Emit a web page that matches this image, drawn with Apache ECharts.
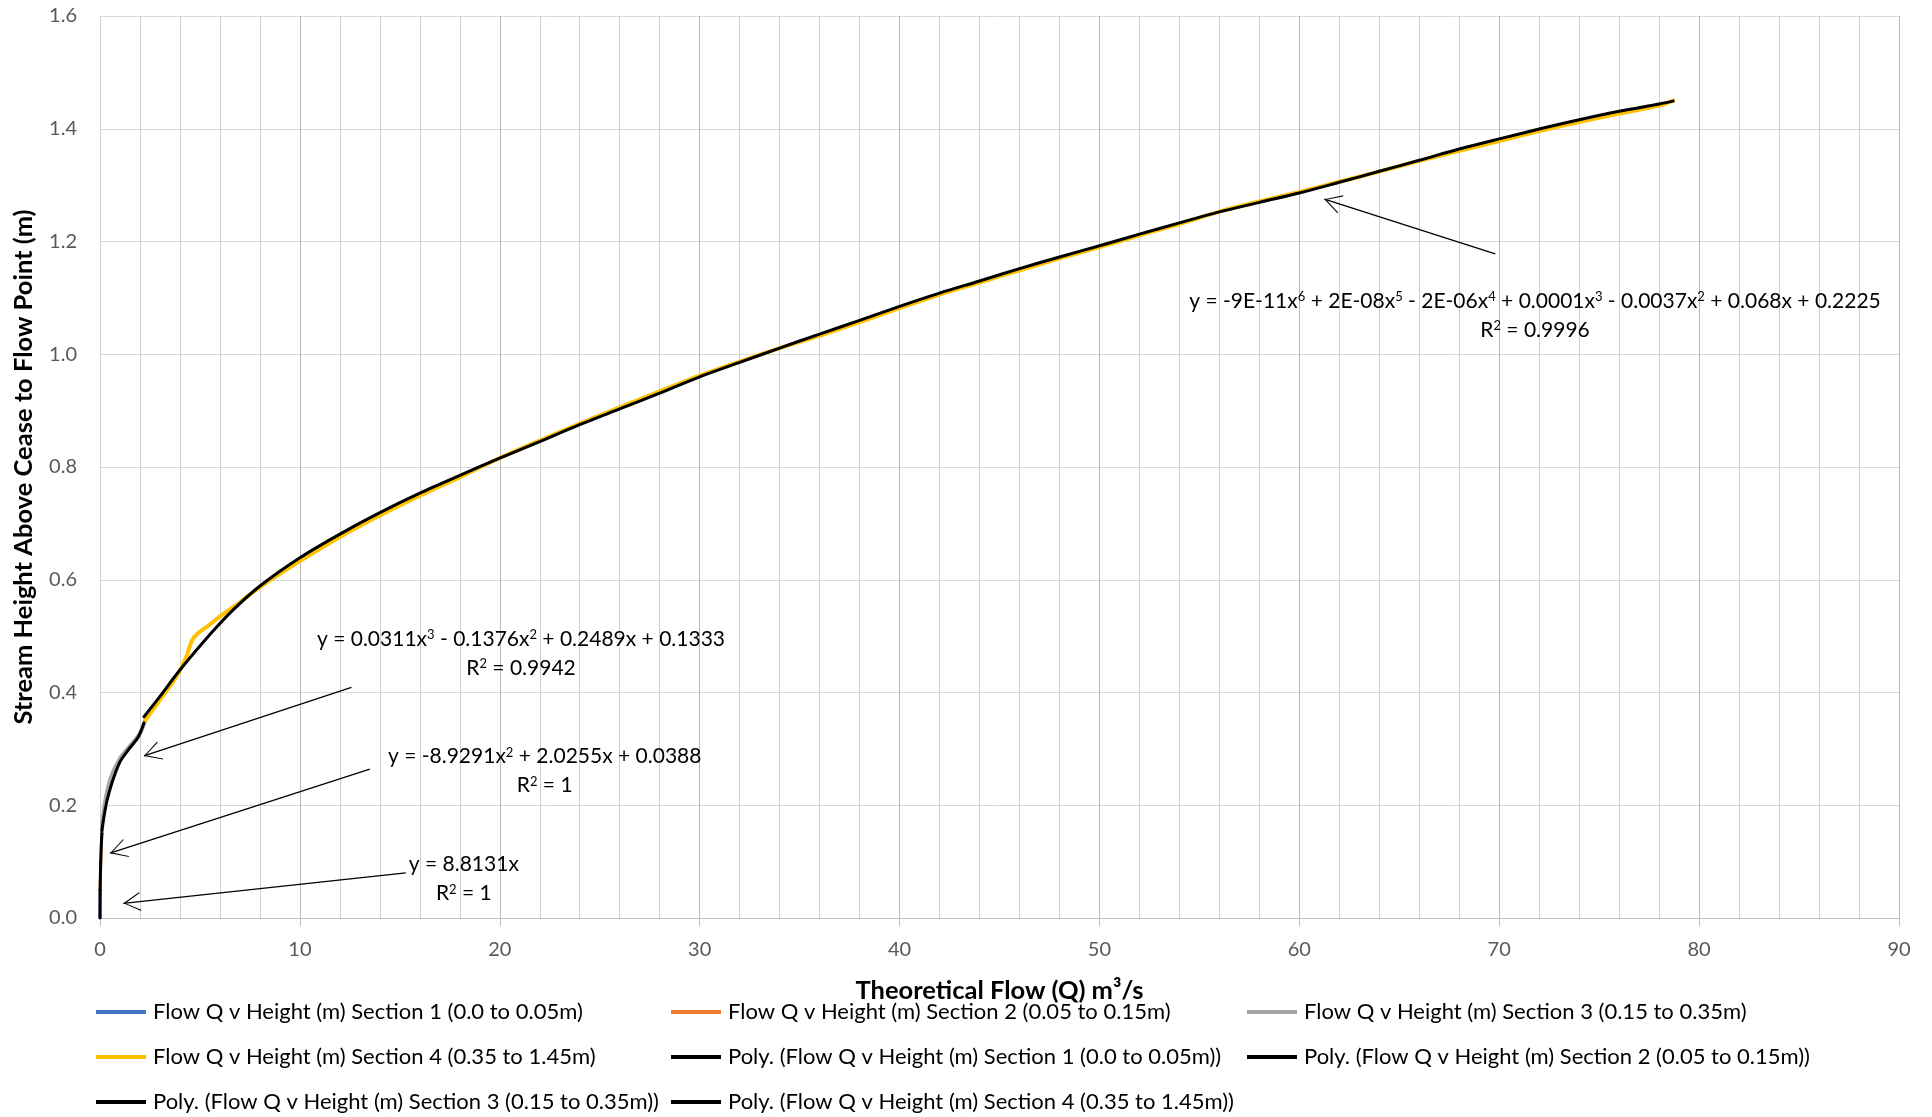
<!DOCTYPE html>
<html>
<head>
<meta charset="utf-8">
<script src="https://cdn.jsdelivr.net/npm/echarts@6/dist/echarts.min.js"></script>
<style>
html,body{margin:0;padding:0;background:#fff;}
#chart{width:1932px;height:1117px;}
</style>
</head>
<body>
<div id="chart"></div>
<script>
// ---- Data ----
const sec1X = [0, 0.0057];
const sec1Y = [0, 0.05];

const sec2X = [0.0057, 0.02, 0.04, 0.06, 0.08, 0.093];
const sec2Y = [0.05, 0.075, 0.1, 0.12, 0.138, 0.15];

const sec3X = [0.093, 0.15, 0.3, 0.55, 1.0, 1.5, 1.9, 2.1, 2.25];
const sec3Y = [0.15, 0.18, 0.215, 0.25, 0.283, 0.305, 0.322, 0.335, 0.35];

const sec4X = [2.25, 3.0, 3.8, 4.3, 4.6, 4.9, 5.4, 6, 7, 8, 10, 12, 14, 16, 18, 20, 22, 24, 26, 28, 30,
               32, 34, 36, 38, 40, 42, 44, 46, 48, 50, 52, 54, 56, 58, 60, 62, 64, 66, 68, 70, 72, 74, 76, 78, 78.7];
const sec4Y = [0.350, 0.387, 0.427, 0.462, 0.492, 0.505, 0.518, 0.535, 0.560, 0.587, 0.633, 0.676, 0.714, 0.749, 0.782, 0.816, 0.847, 0.877, 0.906, 0.934, 0.962,
               0.987, 1.011, 1.033, 1.057, 1.082, 1.106, 1.127, 1.149, 1.170, 1.190, 1.211, 1.231, 1.253, 1.271, 1.288, 1.306, 1.324, 1.343, 1.361, 1.378, 1.396, 1.412, 1.427, 1.441, 1.450];

const poly1X = [0, 0.0057];
const poly1Y = [0, 0.05];

const poly2X = [0.0057, 0.03, 0.06, 0.093];
const poly2Y = [0.05, 0.092, 0.126, 0.15];

const poly3X = [0.093, 0.2, 0.35, 0.6, 1.0, 1.5, 1.9, 2.2];
const poly3Y = [0.155, 0.18, 0.208, 0.24, 0.277, 0.302, 0.32, 0.346];

const poly4X = [2.2, 3.0, 3.8, 4.7, 5.7, 6.7, 8, 10, 12, 14, 16, 18, 20, 22, 24, 26, 28, 30,
                32, 34, 36, 38, 40, 42, 44, 46, 48, 50, 52, 54, 56, 58, 60, 62, 64, 66, 68, 70, 72, 74, 76, 78, 78.7];
const poly4Y = [0.357, 0.393, 0.431, 0.470, 0.511, 0.548, 0.589, 0.639, 0.681, 0.719, 0.7535, 0.785, 0.8157, 0.845, 0.875, 0.903, 0.931, 0.960,
                0.9855, 1.011, 1.0358, 1.060, 1.085, 1.1085, 1.130, 1.152, 1.1725, 1.1925, 1.213, 1.233, 1.2525, 1.2694, 1.286, 1.305, 1.3245, 1.344, 1.364, 1.382, 1.3995, 1.416, 1.431, 1.444, 1.449];

const seriesNames = [
  'Flow Q v Height (m) Section 1 (0.0 to 0.05m)',
  'Flow Q v Height (m) Section 2 (0.05 to 0.15m)',
  'Flow Q v Height (m) Section 3 (0.15 to 0.35m)',
  'Flow Q v Height (m) Section 4 (0.35 to 1.45m)',
  'Poly. (Flow Q v Height (m) Section 1 (0.0 to 0.05m))',
  'Poly. (Flow Q v Height (m) Section 2 (0.05 to 0.15m))',
  'Poly. (Flow Q v Height (m) Section 3 (0.15 to 0.35m))',
  'Poly. (Flow Q v Height (m) Section 4 (0.35 to 1.45m))'
];

const xTicks = [0, 10, 20, 30, 40, 50, 60, 70, 80, 90];
const yTicks = [0.0, 0.2, 0.4, 0.6, 0.8, 1.0, 1.2, 1.4, 1.6];

// trendline annotations (text, with {s|n} marking superscripts) and leader arrows [x, y] in data units
const eqTexts = [
  'y = -9E-11x{s|6} + 2E-08x{s|5} - 2E-06x{s|4} + 0.0001x{s|3} - 0.0037x{s|2} + 0.068x + 0.2225\nR{s|2} = 0.9996',
  'y = 0.0311x{s|3} - 0.1376x{s|2} + 0.2489x + 0.1333\nR{s|2} = 0.9942',
  'y = -8.9291x{s|2} + 2.0255x + 0.0388\nR{s|2} = 1',
  'y = 8.8131x\nR{s|2} = 1'
];
const arrowTail = [[69.8, 1.178], [12.58, 0.409], [13.5, 0.264], [15.3, 0.080]];
const arrowHead = [[61.25, 1.275], [2.2, 0.2875], [0.5, 0.115], [1.17, 0.026]];

// ---- Build ----
const FONT = 'Lato';
function zip(xs, ys) { return xs.map((x, i) => [x, ys[i]]); }

const colors = ['#4472C4', '#ED7D31', '#A5A5A5', '#FFC000', '#000000', '#000000', '#000000', '#000000'];
const widths = [3, 3, 4, 4, 3, 3, 3, 3];
const datas = [zip(sec1X, sec1Y), zip(sec2X, sec2Y), zip(sec3X, sec3Y), zip(sec4X, sec4Y),
               zip(poly1X, poly1Y), zip(poly2X, poly2Y), zip(poly3X, poly3Y), zip(poly4X, poly4Y)];

const chevron = 'path://M9.9,0 L10.1,0 L10,0.1 Z M0.5,34 L10,17 L19.5,34 L18.35,34 L10,19 L1.65,34 Z';

const series = datas.map((d, i) => ({
  name: seriesNames[i],
  type: 'line',
  data: d,
  symbol: 'none',
  smooth: i >= 2 ? 0.3 : false,
  color: colors[i],
  lineStyle: { color: colors[i], width: widths[i], cap: 'round', join: 'round' },
  z: 2 + i,
  silent: true
}));

series[7].markLine = {
  silent: true,
  symbol: ['none', chevron],
  symbolSize: [19, 34],
  label: { show: false },
  lineStyle: { color: '#000', width: 1.3, type: 'solid' },
  emphasis: { disabled: true },
  data: arrowTail.map((t, i) => [{ coord: t }, { coord: arrowHead[i] }])
};

const legendBase = {
  type: 'plain',
  orient: 'vertical',
  itemWidth: 50,
  itemHeight: 4,
  itemGap: 25,
  icon: 'rect',
  padding: 0,
  selectedMode: false,
  textStyle: { fontFamily: FONT, fontSize: 22, color: '#000', lineHeight: 20, padding: [0, 0, 0, 2] },
  top: 1001,
  height: 300
};

const eqPos = [[1535, 315.7], [521, 653.3], [544.7, 771], [463.8, 879]];

const option = {
  animation: false,
  backgroundColor: '#fff',
  grid: { left: 100, right: 33, top: 16, bottom: 199 },
  xAxis: {
    type: 'value', min: 0, max: 90, interval: 10,
    name: 'Theoretical Flow (Q) m\u00B3/s',
    nameLocation: 'middle', nameGap: 59.5,
    nameTextStyle: { fontFamily: FONT, fontSize: 25.5, fontWeight: 'bold', color: '#000' },
    axisLine: { show: true, lineStyle: { color: '#bfbfbf', width: 1 } },
    axisTick: { show: true, length: 8, lineStyle: { color: '#bfbfbf' } },
    axisLabel: { fontFamily: FONT, fontSize: 20, color: '#595959', margin: 22,
                 formatter: v => xTicks.indexOf(v) >= 0 ? String(v) : '' },
    splitLine: { show: true, lineStyle: { color: '#b8b8b8', width: 1 } },
    minorTick: { show: false, splitNumber: 5 },
    minorSplitLine: { show: true, lineStyle: { color: '#d0d0d0', width: 1 } }
  },
  yAxis: {
    type: 'value', min: 0, max: 1.6, interval: 0.2,
    name: 'Stream Height Above Cease to Flow Point (m)',
    nameLocation: 'middle', nameGap: 63, nameRotate: 90,
    nameTextStyle: { fontFamily: FONT, fontSize: 25.5, fontWeight: 'bold', color: '#000' },
    axisLine: { show: true, lineStyle: { color: '#d0d0d0' } },
    axisTick: { show: false },
    axisLabel: { fontFamily: FONT, fontSize: 20, color: '#595959', margin: 23,
                 formatter: v => { const t = yTicks.find(k => Math.abs(k - v) < 1e-6); return t === undefined ? '' : t.toFixed(1); } },
    splitLine: { show: true, lineStyle: { color: '#d9d9d9', width: 1 } }
  },
  legend: [
    Object.assign({}, legendBase, { id: 'lg1', left: 96, data: [seriesNames[0], seriesNames[3], seriesNames[6]] }),
    Object.assign({}, legendBase, { id: 'lg2', left: 671, data: [seriesNames[1], seriesNames[4], seriesNames[7]] }),
    Object.assign({}, legendBase, { id: 'lg3', left: 1247, data: [seriesNames[2], seriesNames[5]] })
  ].map(l => Object.assign(l, { itemGap: 23 })),
  graphic: eqTexts.map((t, i) => ({
    type: 'text',
    x: eqPos[i][0], y: eqPos[i][1],
    silent: true,
    z: 100,
    style: {
      text: t, align: 'center', verticalAlign: 'middle',
      fontFamily: FONT, fontSize: 21, lineHeight: 29, fill: '#000',
      rich: {
        s: { fontFamily: FONT, fontSize: 13, lineHeight: 13, verticalAlign: 'top', padding: [4, 0, 0, 0], fill: '#000' }
      }
    }
  })),
  series: series
};

const chart = echarts.init(document.getElementById('chart'), null, { renderer: 'canvas' });
chart.setOption(option);
</script>
</body>
</html>
